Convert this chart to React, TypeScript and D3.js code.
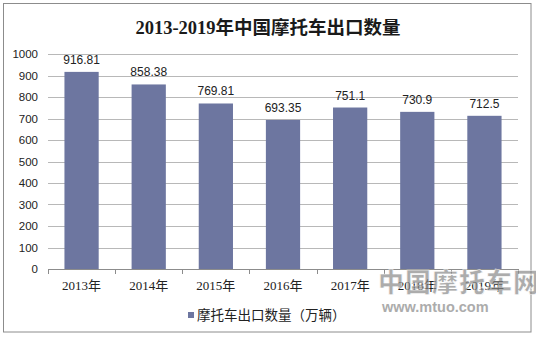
import React from "react";
import * as d3 from "d3";

const years = ["2013年", "2014年", "2015年", "2016年", "2017年", "2018年", "2019年"];
const exports = [916.81, 858.38, 769.81, 693.35, 751.1, 730.9, 712.5];
const valueLabels = ["916.81", "858.38", "769.81", "693.35", "751.1", "730.9", "712.5"];
const yTicks = [0, 100, 200, 300, 400, 500, 600, 700, 800, 900, 1000];
const title = "2013-2019年中国摩托车出口数量";
const legendLabel = "摩托车出口数量（万辆）";

const W = 536;
const H = 337;
const left = 48;
const right = 518;
const top = 54;
const bottom = 269;

export default function App() {
  const x = d3.scaleBand<string>().domain(years).range([left, right]).paddingInner(0.49).paddingOuter(0.245);
  const xb = d3.scaleBand<string>().domain(years).range([left, right]);
  const y = d3.scaleLinear().domain([0, 1000]).range([bottom, top]);
  const serif = "'Liberation Serif', 'DejaVu Serif', 'Noto Sans CJK SC', serif";
  const sans = "'Liberation Sans', Arial, sans-serif";
  const cjk = "'Noto Sans CJK SC', 'Liberation Sans', sans-serif";
  const tickXs = years.map((d) => xb(d) as number).concat([right]);

  return (
    <div style={{ position: "absolute", left: 0, top: 0 }}>
      <svg width={W} height={H} viewBox={`0 0 ${W} ${H}`}>
        <rect x={0} y={0} width={W} height={H} fill="#ffffff" />
        <rect x={3.5} y={3.5} width={527.5} height={328.5} fill="none" stroke="#8c8c8c" strokeWidth={1} />
        <text x={268} y={34} textAnchor="middle" fontFamily={serif} fontSize={18.5} fontWeight="bold" fill="#1a1a1a">
          {title}
        </text>
        {yTicks.map((t) => (
          <g key={t}>
            {t > 0 && (
              <line x1={left} x2={right} y1={Math.round(y(t)) + 0.5} y2={Math.round(y(t)) + 0.5} stroke="#b8b8b8" strokeWidth={1} />
            )}
            <text x={38} y={y(t)} dy="0.36em" textAnchor="end" fontFamily={sans} fontSize={11.5} fill="#222">
              {t}
            </text>
          </g>
        ))}
        {years.map((d, i) => (
          <g key={d}>
            <rect x={x(d)} y={y(exports[i])} width={x.bandwidth()} height={bottom - y(exports[i])} fill="#6d76a0" />
            <text
              x={(x(d) as number) + x.bandwidth() / 2}
              y={y(exports[i]) - 8}
              textAnchor="middle"
              fontFamily={sans}
              fontSize={12}
              fill="#222"
            >
              {valueLabels[i]}
            </text>
            <text
              x={(xb(d) as number) + xb.bandwidth() / 2}
              y={290}
              textAnchor="middle"
              fontFamily={serif}
              fontSize={13}
              fill="#222"
            >
              {d}
            </text>
          </g>
        ))}
        <line x1={left} x2={right} y1={bottom + 0.5} y2={bottom + 0.5} stroke="#8c8c8c" strokeWidth={1} />
        {tickXs.map((tx, i) => (
          <line key={i} x1={Math.round(tx) + 0.5} x2={Math.round(tx) + 0.5} y1={bottom} y2={bottom + 5} stroke="#8c8c8c" strokeWidth={1} />
        ))}
        <rect x={188} y={312} width={6} height={6} fill="#6d76a0" />
        <text x={197} y={320} fontFamily={cjk} fontSize={13.5} fill="#222">
          {legendLabel}
        </text>
        <g opacity={0.7}>
          <text x={378} y={292} fontFamily={cjk} fontSize={26} fontWeight={900} fill="#8a8a8a" stroke="#ffffff" strokeWidth={0.6} letterSpacing={1}>
            中国摩托车网
          </text>
          <text x={382} y={312} fontFamily={sans} fontSize={14.5} fontWeight="bold" fill="#8a8a8a">
            www.mtuo.com
          </text>
        </g>
      </svg>
    </div>
  );
}
